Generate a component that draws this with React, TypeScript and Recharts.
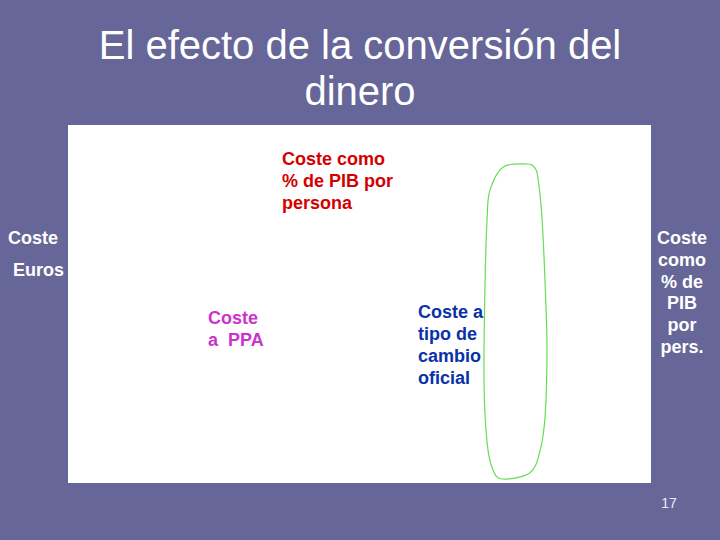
import { ComposedChart, XAxis, YAxis, CartesianGrid, ReferenceDot, ReferenceArea } from 'recharts'

const titleLines = ['El efecto de la conversión del', 'dinero']
const leftAxisLines = ['Coste', 'Euros']
const rightAxisLines = ['Coste', 'como', '% de', 'PIB', 'por', 'pers.']
const pibLabel = ['Coste como', '% de PIB por', 'persona']
const ppaLabel = ['Coste', 'a  PPA']
const officialLabel = ['Coste a', 'tipo de', 'cambio', 'oficial']
const pageNumber = '17'

const FONT = '"Liberation Sans", Arial, sans-serif'
const BOX_W = 583
const BOX_H = 358

// outline of the highlighted column, as fractions of its box
const loop: [number, number][] = [
  [0.095, 0.083], [0.3, 0.01], [0.68, 0], [0.81, 0.013], [0.86, 0.05],
  [0.92, 0.17], [0.97, 0.38], [1, 0.59], [0.97, 0.8], [0.89, 0.91],
  [0.73, 0.98], [0.29, 1], [0.14, 0.97], [0.05, 0.886], [0, 0.695],
  [0.016, 0.38], [0.05, 0.17],
]

function smoothPath(pts: [number, number][]) {
  const n = pts.length
  let d = `M${pts[0][0]},${pts[0][1]}`
  for (let i = 0; i < n; i++) {
    const p0 = pts[(i - 1 + n) % n]
    const p1 = pts[i]
    const p2 = pts[(i + 1) % n]
    const p3 = pts[(i + 2) % n]
    const c1x = p1[0] + (p2[0] - p0[0]) / 6
    const c1y = p1[1] + (p2[1] - p0[1]) / 6
    const c2x = p2[0] - (p3[0] - p1[0]) / 6
    const c2y = p2[1] - (p3[1] - p1[1]) / 6
    d += ` C${c1x},${c1y} ${c2x},${c2y} ${p2[0]},${p2[1]}`
  }
  return d + 'Z'
}

const LoopShape = (props: any) => {
  const { x, y, width, height } = props
  const pts = loop.map(([fx, fy]) => [x + fx * width, y + fy * height] as [number, number])
  return <path d={smoothPath(pts)} fill="none" stroke="#66dd55" strokeWidth={1.2} />
}

const textBlock = (lines: string[], color: string) => (props: any) => (
  <text x={props.cx} y={props.cy} fill={color} fontFamily={FONT} fontSize={18} fontWeight="bold">
    {lines.map((l, i) => (
      <tspan key={i} x={props.cx} dy={i === 0 ? 0 : 22} style={{ whiteSpace: 'pre' }}>
        {l}
      </tspan>
    ))}
  </text>
)

const sideStyle = {
  position: 'absolute' as const,
  color: '#fff',
  fontFamily: FONT,
  fontWeight: 'bold' as const,
  fontSize: 18,
  lineHeight: '21.8px',
}

export default function App() {
  return (
    <div style={{ position: 'absolute', left: 0, top: 0, width: 720, height: 540, background: '#666699', overflow: 'hidden' }}>
      <div
        style={{
          position: 'absolute', left: 0, top: 22, width: 720, textAlign: 'center',
          color: '#fff', fontFamily: FONT, fontSize: 40, lineHeight: '46px',
        }}
      >
        {titleLines.map((l, i) => <div key={i}>{l}</div>)}
      </div>

      <div style={{ ...sideStyle, left: 8, top: 228 }}>{leftAxisLines[0]}</div>
      <div style={{ ...sideStyle, left: 13, top: 260 }}>{leftAxisLines[1]}</div>
      <div style={{ ...sideStyle, left: 651, top: 228, width: 62, textAlign: 'center' }}>
        {rightAxisLines.map((l, i) => <div key={i}>{l}</div>)}
      </div>
      <div style={{ position: 'absolute', left: 655, top: 495, width: 28, textAlign: 'center', color: '#eeeef6', fontFamily: FONT, fontSize: 14 }}>
        {pageNumber}
      </div>

      <div style={{ position: 'absolute', left: 68, top: 125 }}>
        <ComposedChart width={BOX_W} height={BOX_H} data={[{ x: 0, y: 0 }, { x: BOX_W, y: BOX_H }]} margin={{ top: 0, right: 0, bottom: 0, left: 0 }}>
          <CartesianGrid fill="#ffffff" horizontal={false} vertical={false} stroke="none" />
          <XAxis type="number" dataKey="x" domain={[0, BOX_W]} allowDataOverflow hide />
          <YAxis type="number" dataKey="y" domain={[0, BOX_H]} allowDataOverflow reversed hide />
          <ReferenceArea x1={416} x2={479} y1={39} y2={354} ifOverflow="visible" shape={LoopShape} />
          <ReferenceDot x={214} y={40} r={0} ifOverflow="visible" shape={textBlock(pibLabel, '#d40000')} />
          <ReferenceDot x={140} y={199} r={0} ifOverflow="visible" shape={textBlock(ppaLabel, '#cc33cc')} />
          <ReferenceDot x={350} y={193} r={0} ifOverflow="visible" shape={textBlock(officialLabel, '#0a32a8')} />
        </ComposedChart>
      </div>
    </div>
  )
}
